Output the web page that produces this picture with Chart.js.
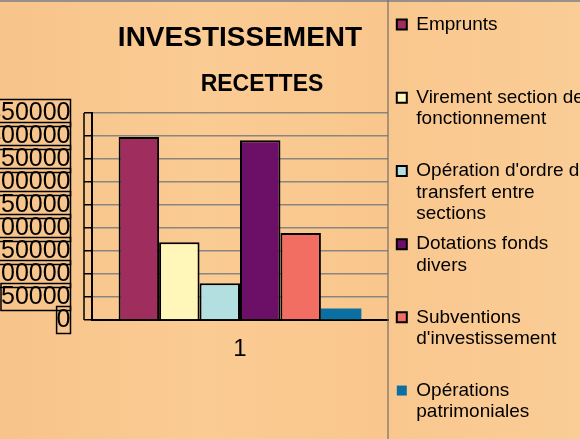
<!DOCTYPE html>
<html>
<head>
<meta charset="utf-8">
<script src="https://cdn.jsdelivr.net/npm/chart.js@4/dist/chart.umd.min.js"></script>
<style>
  body { margin: 0; }
  #wrap {
    width: 580px; height: 439px; position: relative;
    background: linear-gradient(90deg, #f7c48b 0%, #facb93 35%, #f9c78e 65%, #facd96 100%);
  }
</style>
</head>
<body>
<div id="wrap"><canvas id="chart"></canvas></div>
<script>
const categories = ['1'];
const seriesNames = [
    ['Emprunts'],
    ['Virement section de', 'fonctionnement'],
    ["Opération d'ordre de", 'transfert entre', 'sections'],
    ['Dotations fonds', 'divers'],
    ['Subventions', "d'investissement"],
    ['Opérations', 'patrimoniales']
];
const seriesValues = [398000, 169000, 80000, 391000, 189000, 25000];
const seriesColors = ['#9f2e5e', '#fff6b9', '#b3dfe0', '#6b1066', '#f26e63', '#0b6fa2'];
const yTickLabels = ['0', '50000', '100000', '150000', '200000', '250000', '300000', '350000', '400000', '450000'];

const FONT = '"Liberation Sans", Arial, sans-serif';

// boxes round the y labels, the little tick frame, top line, legend frame, subtitle
const decor = {
    id: 'decor',
    afterDraw(chart) {
        const ctx = chart.ctx;
        const y = chart.scales.y;
        const area = chart.chartArea;
        ctx.save();
        ctx.strokeStyle = '#000';
        ctx.lineWidth = 1.5;
        ctx.font = '25px ' + FONT;
        const right = y.right - 8 - 13.5;
        y.ticks.forEach((t, i) => {
            const px = y.getPixelForTick(i);
            const w = ctx.measureText(yTickLabels[i]).width;
            ctx.strokeRect(right - w, px - 13.5, w, 27);
        });
        ctx.beginPath();
        ctx.moveTo(y.right - 8, area.top);
        ctx.lineTo(y.right - 8, area.bottom);
        ctx.stroke();

        ctx.strokeStyle = 'rgba(110,120,135,0.7)';
        ctx.lineWidth = 2;
        ctx.beginPath();
        ctx.moveTo(0, 1);
        ctx.lineTo(chart.width, 1);
        ctx.stroke();
        ctx.strokeStyle = 'rgba(120,110,100,0.8)';
        ctx.lineWidth = 1.5;
        ctx.beginPath();
        ctx.moveTo(chart.legend.left, 0);
        ctx.lineTo(chart.legend.left, chart.height);
        ctx.stroke();

        ctx.fillStyle = '#000';
        ctx.font = 'bold 23px ' + FONT;
        ctx.textAlign = 'center';
        ctx.textBaseline = 'middle';
        ctx.fillText('RECETTES', 262, 85);
        ctx.restore();
    }
};

const datasets = seriesNames.map((name, i) => ({
    label: name.join(' '),
    data: [seriesValues[i]],
    backgroundColor: seriesColors[i],
    borderColor: '#000',
    borderWidth: i === 5 ? 0 : 2,
    categoryPercentage: 0.82,
    barPercentage: 1.0
}));

new Chart(document.getElementById('chart'), {
    type: 'bar',
    data: { labels: categories, datasets: datasets },
    plugins: [decor],
    options: {
        responsive: true,
        maintainAspectRatio: false,
        animation: false,
        layout: { padding: 0 },
        plugins: {
            title: {
                display: true,
                text: 'INVESTISSEMENT',
                fullSize: false,
                color: '#000',
                font: { family: FONT, size: 28, weight: 'bold', lineHeight: 1.2 },
                padding: { top: 21, bottom: 58.4 }
            },
            legend: {
                position: 'right',
                maxWidth: 192,
                labels: {
                    color: '#000',
                    font: { family: FONT, size: 19, lineHeight: 1.13 },
                    boxWidth: 10,
                    boxHeight: 10,
                    padding: 8.8,
                    generateLabels(chart) {
                        const items = Chart.defaults.plugins.legend.labels.generateLabels(chart);
                        return items.map((it, i) => {
                            const lines = seriesNames[i].slice();
                            const want = i === seriesNames.length - 1 ? 2 : 3;
                            while (lines.length < want) lines.push('');
                            it.text = lines;
                            it.lineWidth = i === 5 ? 0 : 2;
                            return it;
                        });
                    }
                }
            },
            tooltip: { enabled: false }
        },
        scales: {
            x: {
                grid: { display: false, drawTicks: false },
                border: { display: true, color: '#000', width: 2 },
                ticks: { color: '#000', padding: 14.6, font: { family: FONT, size: 24, lineHeight: 1.2 } },
                afterFit(scale) { scale.height = 119; }
            },
            y: {
                min: 0,
                max: 450000,
                grid: { color: '#8a8580', lineWidth: 1.5, tickColor: '#000', tickLength: 8, tickWidth: 1.5 },
                border: { display: true, color: '#000', width: 2 },
                ticks: {
                    stepSize: 50000,
                    autoSkip: false,
                    color: '#000',
                    padding: 13.5,
                    font: { family: FONT, size: 25, lineHeight: 1.2 },
                    callback: (value, index) => yTickLabels[index]
                },
                afterFit(scale) { scale.width = 92; }
            }
        }
    }
});
</script>
</body>
</html>
